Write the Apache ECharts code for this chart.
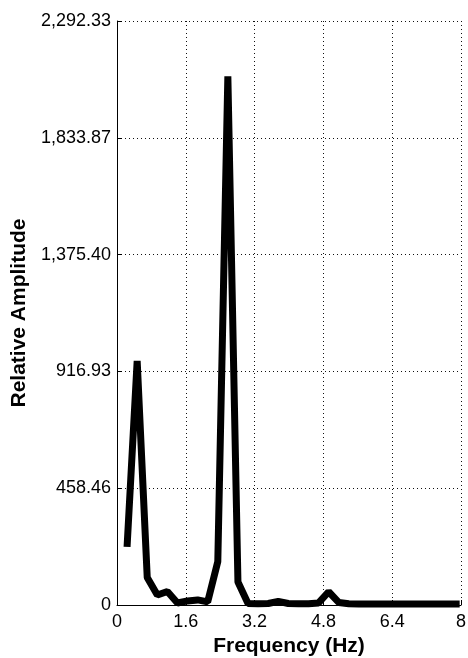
<!DOCTYPE html>
<html>
<head>
<meta charset="utf-8">
<script src="https://cdn.jsdelivr.net/npm/echarts@6/dist/echarts.min.js"></script>
<style>
html,body{margin:0;padding:0;background:#fff;}
#chart{width:468px;height:658px;}
</style>
</head>
<body>
<div id="chart"></div>
<script>
var frequencies = [0.234, 0.469, 0.703, 0.938, 1.172, 1.406, 1.641, 1.875, 2.109, 2.344,
  2.578, 2.813, 3.047, 3.281, 3.516, 3.750, 3.984, 4.219, 4.453, 4.688,
  4.922, 5.156, 5.391, 5.625, 5.859, 6.094, 6.328, 6.563, 6.797, 7.031,
  7.266, 7.500, 7.734, 7.969];
var amplitudes = [228, 958, 108, 39, 53, 8, 16, 20, 12, 170,
  2075, 90, 6, 5, 6, 14, 6, 5, 5, 8,
  52, 10, 5, 4, 4, 4, 4, 4, 4, 4,
  4, 4, 4, 4];
var xTickLabels = ['0', '1.6', '3.2', '4.8', '6.4', '8'];
var yTickLabels = ['0', '458.46', '916.93', '1,375.40', '1,833.87', '2,292.33'];
var xName = 'Frequency (Hz)';
var yName = 'Relative Amplitude';

var xMax = 8, xInterval = 1.6;
var yMax = 2292.33, yInterval = 458.466;

var chart = echarts.init(document.getElementById('chart'), null, {renderer: 'canvas'});
var font = '"Liberation Sans", Arial, sans-serif';
var pts = frequencies.map(function (f, i) { return [f, amplitudes[i]]; });

chart.setOption({
  animation: false,
  backgroundColor: '#ffffff',
  grid: {left: 117, top: 21, width: 344, height: 584, containLabel: false, outerBoundsMode: 'none'},
  xAxis: {
    type: 'value', min: 0, max: xMax, interval: xInterval,
    name: xName, nameLocation: 'middle', nameGap: 30,
    nameTextStyle: {fontFamily: font, fontSize: 21, fontWeight: 'bold', color: '#000'},
    axisLine: {show: true, onZero: false, lineStyle: {color: '#000', width: 1}},
    axisTick: {show: true, inside: true, length: 5, lineStyle: {color: '#000', width: 1}},
    axisLabel: {
      margin: 8, fontFamily: font, fontSize: 18, color: '#000',
      formatter: function (v) { return xTickLabels[Math.round(v / xInterval)]; }
    },
    splitLine: {show: true, lineStyle: {color: '#111', width: 1, type: [1, 3]}}
  },
  yAxis: {
    type: 'value', min: 0, max: yMax, interval: yInterval,
    name: yName, nameLocation: 'middle', nameGap: 76, nameRotate: 90,
    nameTextStyle: {fontFamily: font, fontSize: 21, fontWeight: 'bold', color: '#000'},
    axisLine: {show: true, lineStyle: {color: '#000', width: 1}},
    axisTick: {show: true, inside: true, length: 5, lineStyle: {color: '#000', width: 1}},
    axisLabel: {
      margin: 6, fontFamily: font, fontSize: 18, color: '#000',
      formatter: function (v) { return yTickLabels[Math.round(v / yInterval)]; }
    },
    splitLine: {show: true, lineStyle: {color: '#111', width: 1, type: [1, 3]}}
  },
  series: [{
    type: 'line',
    data: pts,
    symbol: 'none',
    lineStyle: {color: '#000', width: 7, join: 'bevel'},
    z: 3
  }]
});
</script>
</body>
</html>
